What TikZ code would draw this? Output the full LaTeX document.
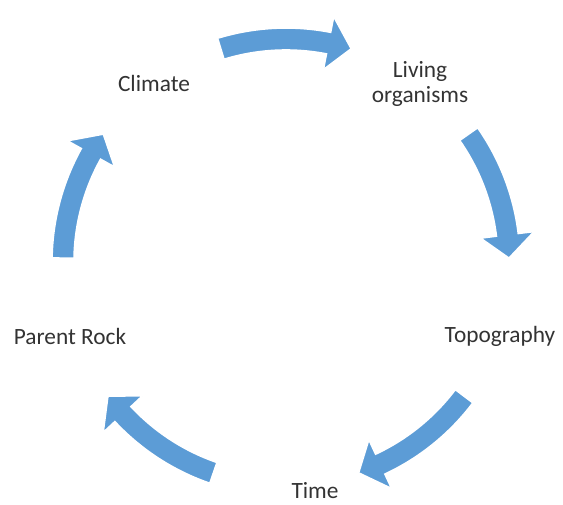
\documentclass[tikz,border=0pt]{standalone}
\usepackage{fontspec}
\setmainfont{Carlito}
\usepackage{tikz}
\tikzset{every picture/.style={line width=0.7pt}}
\definecolor{cycleblue}{rgb}{0.36,0.61,0.84}
\tikzset{cyclefill/.style={fill=cycleblue, draw=white, line width=1.2pt},
  cyclelabel/.style={inner sep=0.75pt, align=center, text=black!80, font=\fontsize{17.5}{18.5}\selectfont}}
% curved block arrow, centred on the given angle (clockwise)
\newcommand{\cyclearrow}[1]{%
  \draw[cyclefill] (#1+17:234) arc[start angle=#1+17, end angle=#1-11, radius=234]
    -- (#1-11:250) -- (#1-17:223) -- (#1-11:196) -- (#1-11:212)
    arc[start angle=#1-11, end angle=#1+17, radius=212] -- cycle ;}

\begin{document}
\begin{tikzpicture}[x=0.75pt,y=0.75pt,yscale=-1,xscale=1]
\useasboundingbox (0,0) rectangle (563,504); %diagram of 563 x 504

\coordinate (ctr) at (286,262);

%Shape: Curved Arrows
\begin{scope}[shift={(ctr)},yscale=-1]
\cyclearrow{90}
\cyclearrow{18}
\cyclearrow{-54}
\cyclearrow{-126}
\cyclearrow{162}
\end{scope}

% Text Node
\node[cyclelabel] (climate) at (154,83) {Climate};
% Text Node
\node[cyclelabel] (living) at (420,84) {Living\\organisms};
% Text Node
\node[cyclelabel] (topo) at (500,336) {Topography};
% Text Node
\node[cyclelabel] (time) at (315,491) {Time};
% Text Node
\node[cyclelabel] (rock) at (70,336) {Parent Rock};

\end{tikzpicture}
\end{document}
